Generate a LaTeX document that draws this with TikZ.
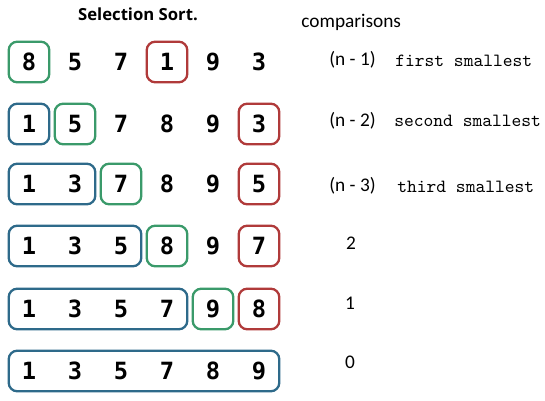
\documentclass[tikz,border=0pt]{standalone}
\usepackage{fontspec}
\usepackage{tikz}
\usetikzlibrary{fit}

\newfontfamily\digitfont{DejaVu Sans Mono}
\newfontfamily\titlefont{Open Sans}
\newfontfamily\notefont{Carlito}

\definecolor{selgreen}{RGB}{58,154,106}
\definecolor{selred}{RGB}{176,58,58}
\definecolor{selblue}{RGB}{46,106,138}

\tikzset{
  digit/.style={inner sep=0pt, minimum width=0.8cm, minimum height=0.8cm,
    font=\digitfont\bfseries\fontsize{13.5}{15}\selectfont},
  selbox/.style={draw, line width=1.3pt, rounded corners=5pt, inner sep=0pt},
  greenbox/.style={selbox, draw=selgreen},
  redbox/.style={selbox, draw=selred},
  bluebox/.style={selbox, draw=selblue},
  countlabel/.style={anchor=west, inner sep=0pt, font=\notefont\fontsize{11}{13}\selectfont},
  codelabel/.style={anchor=west, inner sep=0pt, font=\ttfamily\fontsize{10.6}{12}\selectfont}
}

\begin{document}
\begin{tikzpicture}[x=0.02cm,y=-0.02cm]
\useasboundingbox (0,0) rectangle (545,401);

\node (title) at (138,14) {\titlefont\bfseries\fontsize{9.5}{11}\selectfont Selection Sort.};
\node[countlabel] (comp) at (301,22) {comparisons};

% row 1
\node[digit] (A1) at (29,62) {8};
\node[digit] (A2) at (75,62) {5};
\node[digit] (A3) at (121,62) {7};
\node[digit] (A4) at (167,62) {1};
\node[digit] (A5) at (213,62) {9};
\node[digit] (A6) at (259,62) {3};

% row 2
\node[digit] (B1) at (29,124) {1};
\node[digit] (B2) at (75,124) {5};
\node[digit] (B3) at (121,124) {7};
\node[digit] (B4) at (167,124) {8};
\node[digit] (B5) at (213,124) {9};
\node[digit] (B6) at (259,124) {3};

% row 3
\node[digit] (C1) at (29,184) {1};
\node[digit] (C2) at (75,184) {3};
\node[digit] (C3) at (121,184) {7};
\node[digit] (C4) at (167,184) {8};
\node[digit] (C5) at (213,184) {9};
\node[digit] (C6) at (259,184) {5};

% row 4
\node[digit] (D1) at (29,246) {1};
\node[digit] (D2) at (75,246) {3};
\node[digit] (D3) at (121,246) {5};
\node[digit] (D4) at (167,246) {8};
\node[digit] (D5) at (213,246) {9};
\node[digit] (D6) at (259,246) {7};

% row 5
\node[digit] (E1) at (29,309) {1};
\node[digit] (E2) at (75,309) {3};
\node[digit] (E3) at (121,309) {5};
\node[digit] (E4) at (167,309) {7};
\node[digit] (E5) at (213,309) {9};
\node[digit] (E6) at (259,309) {8};

% row 6
\node[digit] (F1) at (29,371) {1};
\node[digit] (F2) at (75,371) {3};
\node[digit] (F3) at (121,371) {5};
\node[digit] (F4) at (167,371) {7};
\node[digit] (F5) at (213,371) {8};
\node[digit] (F6) at (259,371) {9};

% boxes
\node[greenbox, fit=(A1)] (gA) {};
\node[redbox, fit=(A4)] (rA) {};
\node[bluebox, fit=(B1)] (bB) {};
\node[greenbox, fit=(B2)] (gB) {};
\node[redbox, fit=(B6)] (rB) {};
\node[bluebox, fit=(C1)(C2)] (bC) {};
\node[greenbox, fit=(C3)] (gC) {};
\node[redbox, fit=(C6)] (rC) {};
\node[bluebox, fit=(D1)(D3)] (bD) {};
\node[greenbox, fit=(D4)] (gD) {};
\node[redbox, fit=(D6)] (rD) {};
\node[bluebox, fit=(E1)(E4)] (bE) {};
\node[greenbox, fit=(E5)] (gE) {};
\node[redbox, fit=(E6)] (rE) {};
\node[bluebox, fit=(F1)(F6)] (bF) {};

% comparisons
\node[countlabel] (N1) at (329,60) {(n - 1)};
\node[codelabel] (T1) at (395,61) {first smallest};
\node[countlabel] (N2) at (329,121) {(n - 2)};
\node[codelabel] (T2) at (394,121) {second smallest};
\node[countlabel] (N3) at (329,186) {(n - 3)};
\node[codelabel] (T3) at (397,187) {third smallest};
\node[countlabel, anchor=center] (N4) at (351,243) {2};
\node[countlabel, anchor=center] (N5) at (350,303) {1};
\node[countlabel, anchor=center] (N6) at (350,362) {0};
\end{tikzpicture}
\end{document}
